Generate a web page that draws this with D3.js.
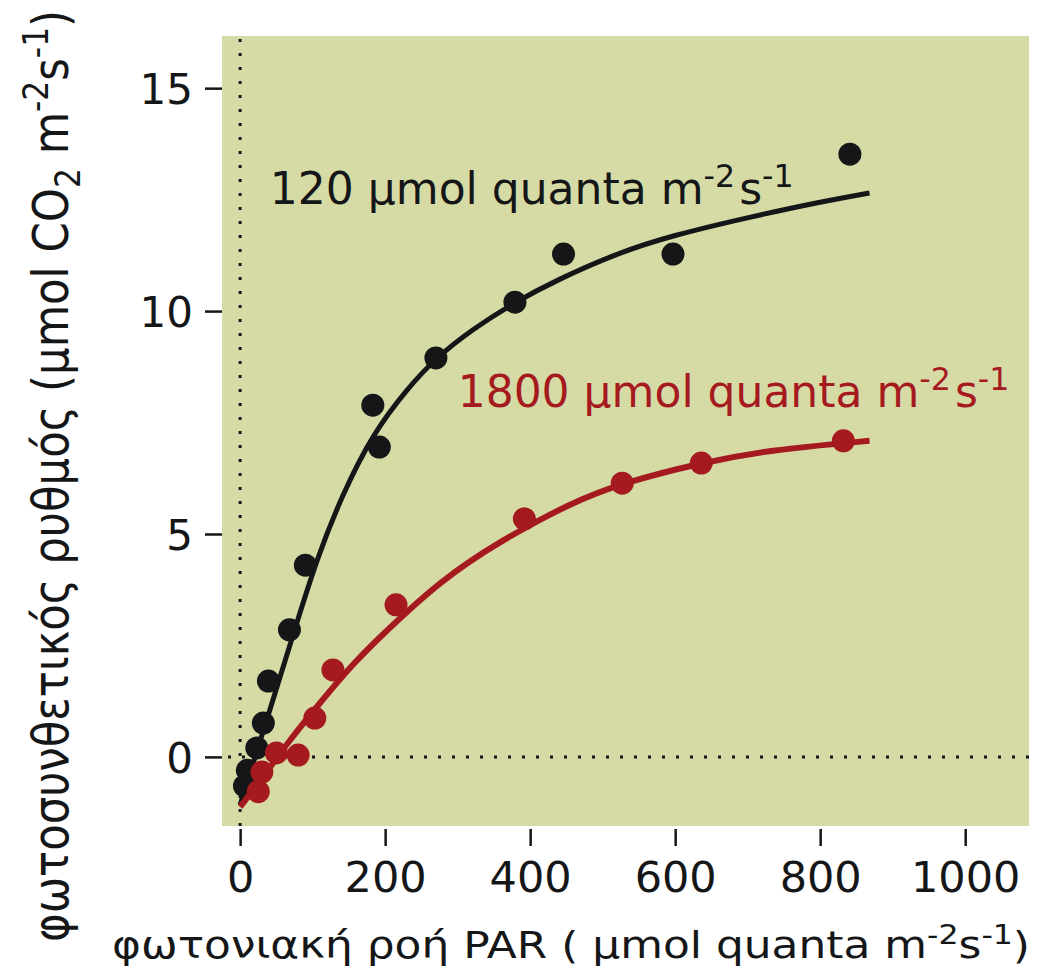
<!DOCTYPE html>
<html>
<head>
<meta charset="utf-8">
<script src="https://cdn.jsdelivr.net/npm/d3@7"></script>
<style>
  body { margin: 0; background: #fff; }
  svg { display: block; font-family: 'DejaVu Sans', Verdana, sans-serif; }
</style>
</head>
<body>
<div id="chart"></div>
<script>
// ---------- data ----------
const lowX = [6, 10, 23, 32, 39, 68, 90, 183, 192, 270, 379, 446, 597, 841];
const lowY = [-0.65, -0.3, 0.2, 0.76, 1.7, 2.85, 4.3, 7.89, 6.95, 8.95, 10.2, 11.28, 11.28, 13.52];
const lowFitX = [0, 40, 78, 106, 140, 183, 230, 270, 321, 379, 437, 520, 597, 700, 800, 868];
const lowFitY = [-1.08, 1.0, 3.0, 4.45, 5.85, 7.25, 8.25, 8.95, 9.6, 10.2, 10.7, 11.3, 11.7, 12.1, 12.45, 12.65];

const highX = [25, 30, 50, 80, 103, 128, 215, 392, 527, 636, 832];
const highY = [-0.78, -0.34, 0.09, 0.04, 0.87, 1.95, 3.41, 5.34, 6.14, 6.59, 7.09];
const highFitX = [0, 32, 65, 110, 156, 203, 276, 359, 459, 527, 634, 727, 868];
const highFitY = [-1.12, -0.45, 0.31, 1.21, 2.1, 2.85, 3.95, 4.85, 5.72, 6.14, 6.59, 6.88, 7.09];

const xTicks = [0, 200, 400, 600, 800, 1000];
const yTicks = [0, 5, 10, 15];

// ---------- setup ----------
const width = 1040;
const height = 971;
const bg = '#d6dba6';
const black = '#141617';
const red = '#a51a1e';

const svg = d3.select('#chart').append('svg')
  .attr('width', width)
  .attr('height', height);

const x = d3.scaleLinear().domain([-25, 1088]).range([222, 1029]);
const y = d3.scaleLinear().domain([-1.55, 16.17]).range([826, 36]);

// background
svg.append('rect')
  .attr('x', x(-25)).attr('y', y(16.17))
  .attr('width', x(1088) - x(-25))
  .attr('height', y(-1.55) - y(16.17))
  .attr('fill', bg);

// dotted zero lines
svg.append('line')
  .attr('x1', x(0)).attr('x2', x(0))
  .attr('y1', y(16.17) + 3).attr('y2', y(-1.55))
  .attr('stroke', black).attr('stroke-width', 3)
  .attr('stroke-dasharray', '3 11');
svg.append('line')
  .attr('x1', x(-25) + 6).attr('x2', x(1088))
  .attr('y1', y(0)).attr('y2', y(0))
  .attr('stroke', black).attr('stroke-width', 3)
  .attr('stroke-dasharray', '3 11');

// axes
const yAxis = svg.append('g')
  .attr('transform', `translate(${x(-25)},0)`)
  .call(d3.axisLeft(y).tickValues(yTicks).tickSize(17).tickPadding(12));
const xAxis = svg.append('g')
  .attr('transform', `translate(0,${y(-1.55) + 3})`)
  .call(d3.axisBottom(x).tickValues(xTicks).tickFormat(d3.format('d')).tickSize(17).tickPadding(15));

[yAxis, xAxis].forEach(g => {
  g.select('.domain').remove();
  g.selectAll('.tick line').attr('stroke', black).attr('stroke-width', 2.5);
  g.selectAll('.tick text')
    .attr('fill', black)
    .attr('font-family', "'DejaVu Sans', Verdana, sans-serif");
});
yAxis.selectAll('.tick text').attr('font-size', 42).attr('dy', '0.36em');
xAxis.selectAll('.tick text').attr('font-size', 43);

// ---------- series ----------
const line = d3.line()
  .x(d => x(d[0]))
  .y(d => y(d[1]))
  .curve(d3.curveBasis);

function drawSeries(fx, fy, px, py, color, lw) {
  const g = svg.append('g');
  g.append('path')
    .datum(d3.zip(fx, fy))
    .attr('d', line)
    .attr('fill', 'none')
    .attr('stroke', color)
    .attr('stroke-width', lw);
  g.selectAll('circle')
    .data(d3.zip(px, py))
    .join('circle')
    .attr('cx', d => x(d[0]))
    .attr('cy', d => y(d[1]))
    .attr('r', 11.5)
    .attr('fill', color);
}
drawSeries(lowFitX, lowFitY, lowX, lowY, black, 5);
drawSeries(highFitX, highFitY, highX, highY, red, 6);

// ---------- labels ----------
function unitLabel(sel, lead) {
  sel.append('tspan').text(lead + ' μmol quanta m');
  sel.append('tspan').attr('dy', -17).attr('font-size', '0.72em').text('-2');
  sel.append('tspan').attr('dx', 4).attr('dy', 17).text('s');
  sel.append('tspan').attr('dy', -17).attr('font-size', '0.72em').text('-1');
}

svg.append('text')
  .attr('x', x(41)).attr('y', y(12.4))
  .attr('font-size', 44)
  .attr('fill', black)
  .call(unitLabel, '120');

svg.append('text')
  .attr('x', x(300)).attr('y', y(7.85))
  .attr('font-size', 44)
  .attr('fill', red)
  .call(unitLabel, '1800');

// x title
const xt = svg.append('text')
  .attr('x', 112).attr('y', 958)
  .attr('font-size', 38)
  .attr('fill', black)
  .attr('textLength', 918)
  .attr('lengthAdjust', 'spacingAndGlyphs');
xt.append('tspan').text('φωτονιακή ροή PAR ( μmol quanta m');
xt.append('tspan').attr('dy', -14).attr('font-size', '0.72em').text('-2');
xt.append('tspan').attr('dy', 14).text('s');
xt.append('tspan').attr('dy', -14).attr('font-size', '0.72em').text('-1');
xt.append('tspan').attr('dy', 14).text(')');

// y title
const yt = svg.append('text')
  .attr('transform', 'translate(68,942) rotate(-90)')
  .attr('font-size', 49)
  .attr('fill', black)
  .attr('textLength', 932)
  .attr('lengthAdjust', 'spacingAndGlyphs');
yt.append('tspan').text('φωτοσυνθετικός ρυθμός (μmol CO');
yt.append('tspan').attr('dy', 12).attr('font-size', '0.72em').text('2');
yt.append('tspan').attr('dy', -12).text(' m');
yt.append('tspan').attr('dy', -20).attr('font-size', '0.72em').text('-2');
yt.append('tspan').attr('dy', 20).text('s');
yt.append('tspan').attr('dy', -20).attr('font-size', '0.72em').text('-1');
yt.append('tspan').attr('dy', 20).text(')');
</script>
</body>
</html>
